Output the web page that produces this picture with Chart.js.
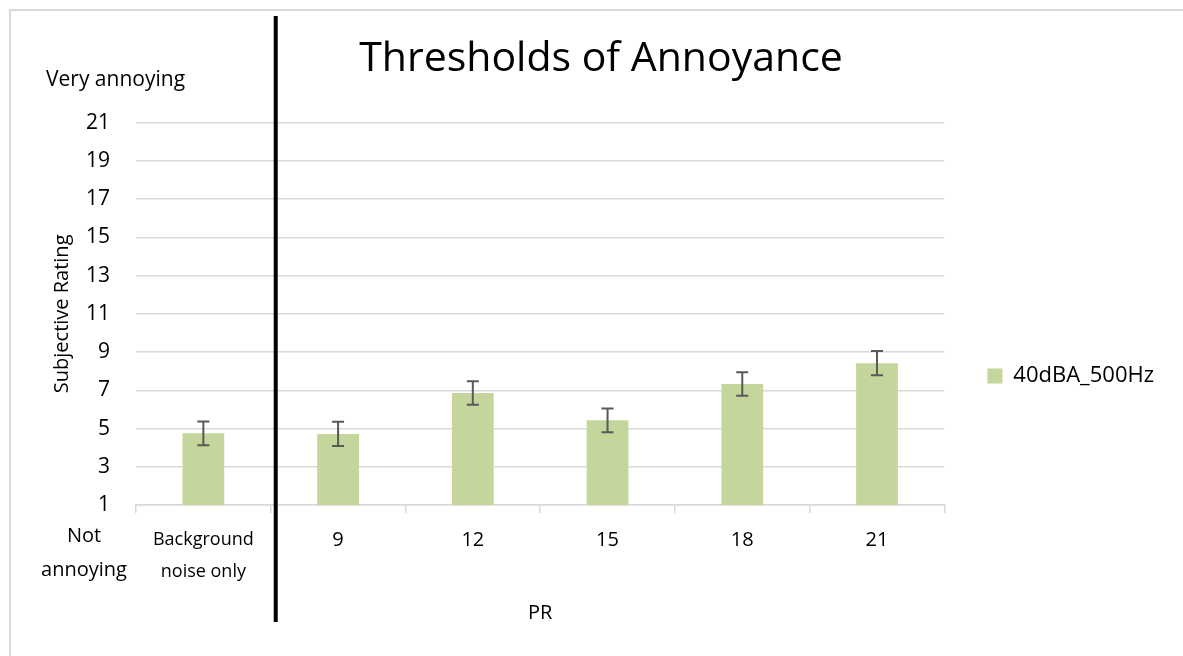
<!DOCTYPE html>
<html>
<head>
<meta charset="utf-8">
<script src="https://cdn.jsdelivr.net/npm/chart.js@4"></script>
<style>
  body { margin: 0; background: #fff; }
  #wrap { position: relative; width: 1183px; height: 656px; overflow: hidden; }
  #frame { position: absolute; left: 9px; top: 9px; width: 1300px; height: 800px; border-left: 2px solid #d9d9d9; border-top: 2px solid #d9d9d9; }
  canvas { position: absolute; left: 0; top: 0; }
</style>
</head>
<body>
<div id="wrap">
  <div id="frame"></div>
  <canvas id="annoyChart" width="1183" height="656"></canvas>
</div>
<script>
// data
const categories = [['Background', 'noise only'], '9', '12', '15', '18', '21'];
const ratings = [4.75, 4.72, 6.86, 5.43, 7.33, 8.42];
const errors = [0.62, 0.63, 0.62, 0.62, 0.62, 0.63];
const yTicks = [1, 3, 5, 7, 9, 11, 13, 15, 17, 19, 21];

const FONT = '"Open Sans", Lato, sans-serif';

// error bars, drawn from the y scale
const errorBars = {
    id: 'errorBars',
    afterDatasetsDraw(chart) {
        const ctx = chart.ctx;
        const y = chart.scales.y;
        const bars = chart.getDatasetMeta(0).data;
        ctx.save();
        ctx.strokeStyle = '#595959';
        ctx.lineWidth = 2;
        bars.forEach((bar, i) => {
            const top = y.getPixelForValue(ratings[i] + errors[i]);
            const bot = y.getPixelForValue(ratings[i] - errors[i]);
            ctx.beginPath();
            ctx.moveTo(bar.x, top); ctx.lineTo(bar.x, bot);
            ctx.moveTo(bar.x - 6, top); ctx.lineTo(bar.x + 6, top);
            ctx.moveTo(bar.x - 6, bot); ctx.lineTo(bar.x + 6, bot);
            ctx.stroke();
        });
        ctx.restore();
    }
};

// scale end notes + the black divider after the first category
const extras = {
    id: 'extras',
    afterDraw(chart) {
        const ctx = chart.ctx;
        const area = chart.chartArea;
        const x = chart.scales.x;
        ctx.save();
        ctx.fillStyle = '#000';
        ctx.textBaseline = 'middle';
        ctx.textAlign = 'left';
        ctx.font = '21px ' + FONT;
        ctx.fillText('Very annoying', 46, area.top - 43);
        ctx.textAlign = 'center';
        ctx.font = '20px ' + FONT;
        ctx.fillText('Not', 84, area.bottom + 31);
        ctx.fillText('annoying', 84, area.bottom + 65);

        const divX = (x.getPixelForValue(0) + x.getPixelForValue(1)) / 2 + 5;
        ctx.strokeStyle = '#000';
        ctx.lineWidth = 4;
        ctx.beginPath();
        ctx.moveTo(divX, 16);
        ctx.lineTo(divX, 622);
        ctx.stroke();
        ctx.restore();
    }
};

new Chart(document.getElementById('annoyChart'), {
    type: 'bar',
    data: {
        labels: categories,
        datasets: [{
            label: '40dBA_500Hz',
            data: ratings,
            backgroundColor: '#c4d69b',
            barPercentage: 0.31,
            categoryPercentage: 1
        }]
    },
    options: {
        responsive: false,
        animation: false,
        layout: { padding: { left: 38, right: 19, top: 0, bottom: 0 } },
        plugins: {
            title: {
                display: true,
                text: 'Thresholds of Annoyance',
                color: '#000',
                font: { family: FONT, size: 41, weight: 'normal', lineHeight: 1.2 },
                padding: { top: 34.9, bottom: 38.6 }
            },
            legend: {
                position: 'right',
                title: { display: true, text: '', padding: { top: 0, bottom: 72 }, font: { size: 20, lineHeight: 1.2 } },
                labels: {
                    color: '#000',
                    font: { family: FONT, size: 22 },
                    boxWidth: 15,
                    boxHeight: 15,
                    padding: 43
                }
            },
            tooltip: { enabled: false }
        },
        scales: {
            x: {
                grid: { display: true, drawOnChartArea: false, drawTicks: true, tickLength: 8, color: '#d9d9d9', lineWidth: 1.5 },
                border: { display: true, color: '#d9d9d9', width: 1.5 },
                ticks: {
                    color: '#000',
                    padding: 11,
                    maxRotation: 0,
                    autoSkip: false,
                    font: (c) => c.index === 0
                        ? { family: FONT, size: 18, lineHeight: 32 / 18 }
                        : { family: FONT, size: 20, lineHeight: 1.6 }
                },
                title: {
                    display: true,
                    text: 'PR',
                    color: '#000',
                    font: { family: FONT, size: 20, lineHeight: 1.2 },
                    padding: { top: 0, bottom: 31 }
                },
                afterFit(scale) { scale.height = 151; }
            },
            y: {
                min: 1,
                max: 21,
                afterBuildTicks(scale) { scale.ticks = yTicks.map(v => ({ value: v })); },
                grid: { color: '#d9d9d9', lineWidth: 1.5, drawTicks: false },
                border: { display: false },
                ticks: {
                    color: '#000',
                    padding: 26,
                    font: { family: FONT, size: 21 }
                },
                title: {
                    display: true,
                    text: 'Subjective Rating',
                    color: '#000',
                    font: { family: FONT, size: 20, lineHeight: 1.2 },
                    padding: { top: 12, bottom: 0 }
                },
                afterFit(scale) { scale.width = 98; }
            }
        }
    },
    plugins: [errorBars, extras]
});
</script>
</body>
</html>
